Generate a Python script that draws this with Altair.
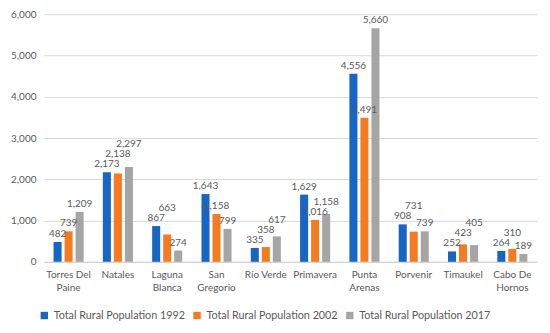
import altair as alt
import pandas as pd

communes = ["Torres Del Paine", "Natales", "Laguna Blanca", "San Gregorio", "Río Verde",
            "Primavera", "Punta Arenas", "Porvenir", "Timaukel", "Cabo De Hornos"]
label_lines = {
    "Torres Del Paine": ["Torres Del", "Paine"],
    "Laguna Blanca": ["Laguna", "Blanca"],
    "San Gregorio": ["San", "Gregorio"],
    "Punta Arenas": ["Punta", "Arenas"],
    "Cabo De Hornos": ["Cabo De", "Hornos"],
}
series = ["Total Rural Population 1992", "Total Rural Population 2002", "Total Rural Population 2017"]
pop_1992 = [482, 2173, 867, 1643, 335, 1629, 4556, 908, 252, 264]
pop_2002 = [739, 2138, 663, 1158, 358, 1016, 3491, 731, 423, 310]
pop_2017 = [1209, 2297, 274, 799, 617, 1158, 5660, 739, 405, 189]
colors = ["#1766C6", "#F47B20", "#A5A5A5"]

Y_MAX = 6000
PLOT_H = 248
px_per_unit = PLOT_H / Y_MAX

# Simple label collision avoidance within each group (labels move up only)
rows = []
for ci, c in enumerate(communes):
    placed = []  # (x_center, half_width, bottom_h, top_h) in px above zero
    for si, (s, vals) in enumerate(zip(series, [pop_1992, pop_2002, pop_2017])):
        v = vals[ci]
        text = f"{v:,}"
        half_w = len(text) * 2.8
        xc = si * 11
        h = v * px_per_unit + 3
        moved = True
        while moved:
            moved = False
            for (ox, ohw, ob, ot) in placed:
                if abs(ox - xc) < ohw + half_w - 2 and h < ot - 1 and h + 11 > ob + 1:
                    h = ot - 1
                    moved = True
        placed.append((xc, half_w, h, h + 11))
        rows.append({"commune": c, "series": s, "value": v, "label_y": h / px_per_unit})
df = pd.DataFrame(rows)

expr = "".join(
    f"datum.label == '{k}' ? {v} : " for k, v in label_lines.items()
) + "datum.label"

font = "Lato"
txt = "#595959"

x = alt.X("commune:N", sort=communes, title=None,
          scale=alt.Scale(paddingInner=0.39, paddingOuter=0.195),
          axis=alt.Axis(labelAngle=0, labelExpr=expr, labelFontSize=10, labelColor=txt,
                        labelFont=font, ticks=False, domainColor="#D0D0D0",
                        labelPadding=8, labelLineHeight=13))
xo = alt.XOffset("series:N", sort=series, scale=alt.Scale(paddingInner=0.27, paddingOuter=0))
yscale = alt.Scale(domain=[0, Y_MAX])
y = alt.Y("value:Q", title=None, scale=yscale,
          axis=alt.Axis(values=[0, 1000, 2000, 3000, 4000, 5000, 6000],
                        labelExpr="format(datum.value, ',')",
                        labelFontSize=10, labelColor=txt, labelFont=font, ticks=False,
                        domain=False, gridColor="#D9D9D9", labelPadding=8))

bars = alt.Chart(df).mark_bar().encode(
    x=x, xOffset=xo, y=y,
    color=alt.Color("series:N", sort=series, title=None,
                    scale=alt.Scale(domain=series, range=colors),
                    legend=alt.Legend(orient="none", direction="horizontal",
                                      legendX=-5, legendY=296,
                                      symbolType="square", symbolSize=55,
                                      symbolStrokeWidth=0,
                                      labelFontSize=10.8, labelColor=txt, labelFont=font,
                                      columnPadding=6, labelLimit=300))
)

labels = alt.Chart(df).mark_text(baseline="bottom", fontSize=10, font=font, color=txt).encode(
    x=x, xOffset=xo,
    y=alt.Y("label_y:Q", scale=yscale),
    text=alt.Text("value:Q", format=",")
)

chart = (bars + labels).properties(
    width=494, height=PLOT_H,
    padding={"left": 2, "top": 1, "right": 5, "bottom": 5},
).configure_view(stroke=None)

chart.save("out.html", embed_options={"renderer": "svg", "actions": False})
